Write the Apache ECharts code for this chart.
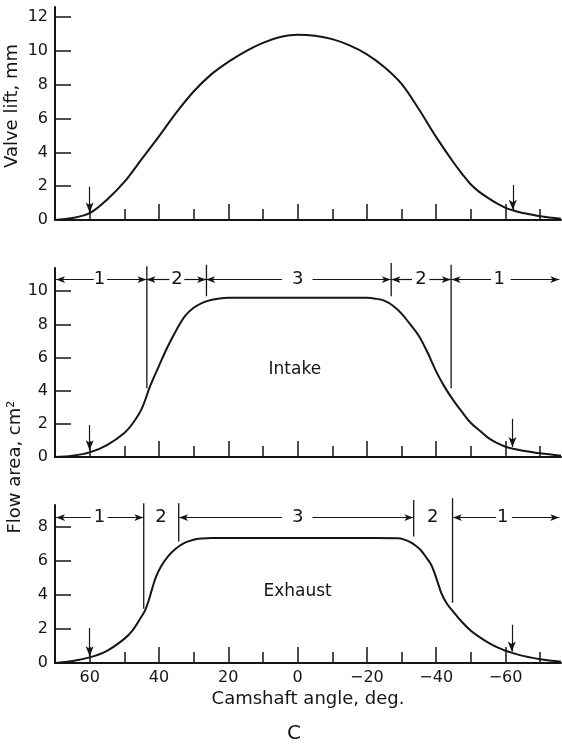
<!DOCTYPE html>
<html lang="en">
<head>
<meta charset="UTF-8">
<title>Valve lift and flow area</title>
<script src="https://cdn.jsdelivr.net/npm/echarts@6/dist/echarts.min.js"></script>
<style>
  html, body { margin: 0; padding: 0; background: #fff; }
  #main { width: 562px; height: 745px; }
</style>
</head>
<body>
<div id="main"></div>
<script>
// camshaft angle ticks (deg.)
var angleMajor = [60, 40, 20, 0, -20, -40, -60];
var angleMinor = [50, 30, 10, -10, -30, -50, -70];

// valve lift, mm  [angle, lift]
var liftCurve = [
  [70, 0], [65, 0.12], [60, 0.4], [55, 1.2], [50, 2.25], [45, 3.6], [40, 4.95],
  [35, 6.35], [30, 7.6], [25, 8.6], [20, 9.35], [15, 9.98], [10, 10.48], [5, 10.82],
  [0, 10.96], [-5, 10.9], [-10, 10.7], [-15, 10.33], [-20, 9.8], [-25, 9.05],
  [-30, 8.05], [-35, 6.55], [-40, 4.9], [-45, 3.4], [-47.5, 2.72], [-50, 2.1],
  [-52.5, 1.65], [-55, 1.3], [-57.5, 0.98], [-60, 0.72], [-62.5, 0.55], [-65, 0.42],
  [-70, 0.22], [-76, 0.08]
];
var liftTicks = [0, 2, 4, 6, 8, 10, 12];
// opening / closing arrows: [angle, from, to]
var liftArrows = [[60, 1.97, 0.45], [-62.1, 2.07, 0.6]];

// intake flow area, cm2
var intakeCurve = [
  [70, 0], [65, 0.08], [60, 0.28], [55, 0.72], [50, 1.45], [47.5, 2.05], [45, 2.9],
  [42.5, 4.3], [40, 5.5], [37.5, 6.65], [35, 7.65], [32.5, 8.5], [30, 9.0], [27.5, 9.3],
  [25, 9.47], [22.5, 9.56], [20, 9.6], [10, 9.6], [0, 9.6], [-10, 9.6], [-20, 9.6],
  [-22.5, 9.55], [-25, 9.43], [-27.5, 9.12], [-30, 8.65], [-32.5, 8.0], [-35, 7.3],
  [-37.5, 6.3], [-40, 5.15], [-42.5, 4.2], [-45, 3.4], [-47.5, 2.7], [-50, 2.05],
  [-52.5, 1.6], [-55, 1.15], [-57.5, 0.85], [-60, 0.62], [-62.5, 0.48], [-65, 0.38],
  [-70, 0.22], [-76, 0.08]
];
var intakeTicks = [0, 2, 4, 6, 8, 10];
var intakeArrows = [[60, 1.92, 0.4], [-62, 2.3, 0.6]];
// region boundaries: [angle, bottom, top]
var intakeBounds = [[43.5, 4.15, 11.5], [26.3, 9.7, 11.6], [-27, 9.7, 11.7], [-44.3, 4.15, 11.6]];
var intakeRow = 10.7;
var intakeLabels = [['1', 57.2], ['2', 34.8], ['3', 0], ['2', -35.6], ['1', -58.2]];
var intakeSpans = [[58.8, 69.7], [55, 43.6], [37, 43.6], [32.7, 26.4], [4.5, 26.4],
  [-4.3, -26.9], [-33, -27.1], [-38, -44.2], [-55.8, -44.4], [-61.5, -75.5]];
var intakeName = ['Intake', 0.8, 5.25];

// exhaust flow area, cm2
var exhaustCurve = [
  [70, 0], [65, 0.12], [60, 0.33], [55, 0.72], [50, 1.42], [47.5, 1.95], [45, 2.75],
  [44, 3.1], [43, 3.65], [42, 4.35], [41, 5.0], [39.5, 5.65], [37.5, 6.25], [35, 6.75],
  [32.5, 7.08], [30, 7.26], [27.5, 7.33], [25, 7.36], [10, 7.36], [0, 7.36], [-15, 7.36],
  [-29, 7.35], [-31, 7.25], [-32.5, 7.12], [-34, 6.92], [-35.5, 6.65], [-37, 6.25],
  [-38.5, 5.8], [-39.5, 5.3], [-40.5, 4.7], [-41.5, 4.1], [-43, 3.52], [-45, 3.0],
  [-47.5, 2.4], [-50, 1.9], [-52.5, 1.52], [-55, 1.2], [-57.5, 0.93], [-60, 0.72],
  [-62.5, 0.56], [-65, 0.42], [-70, 0.22], [-76, 0.08]
];
var exhaustTicks = [0, 2, 4, 6, 8];
var exhaustArrows = [[60, 2.06, 0.4], [-61.8, 2.25, 0.68]];
var exhaustBounds = [[44.4, 3.2, 9.4], [34.3, 7.15, 9.4], [-33.5, 7.45, 9.6], [-44.7, 3.55, 9.7]];
var exhaustRow = 8.56;
var exhaustLabels = [['1', 57.2], ['2', 39.4], ['3', 0], ['2', -39], ['1', -59.2]];
var exhaustSpans = [[59.7, 69.7], [54.8, 44.5], [4.5, 34.2], [-4.3, -33.4],
  [-57.3, -44.8], [-61.8, -75.5]];
var exhaustName = ['Exhaust', 0, 4.2];

var font = 'DejaVu Sans';
var ink = '#151515';

var chart = echarts.init(document.getElementById('main'));

function minus(v) { return v < 0 ? '\u2212' + (-v) : String(v); }

function xMajor(i, labels) {
  return {
    type: 'value', gridIndex: i, position: 'bottom', min: -76, max: 70, inverse: true,
    axisLine: { show: true, onZero: false, lineStyle: { color: ink, width: 2 } },
    axisTick: { show: true, inside: true, length: 16, customValues: angleMajor, lineStyle: { color: ink, width: 1.5 } },
    axisLabel: { show: labels, customValues: angleMajor, margin: 7, color: ink, fontSize: 16, fontFamily: font, formatter: minus },
    splitLine: { show: false }
  };
}
function xMinor(i) {
  return {
    type: 'value', gridIndex: i, position: 'bottom', min: -76, max: 70, inverse: true,
    axisLine: { show: false, onZero: false },
    axisTick: { show: true, inside: true, length: 11, customValues: angleMinor, lineStyle: { color: ink, width: 1.5 } },
    axisLabel: { show: false },
    splitLine: { show: false }
  };
}
function yAx(i, max, ticks) {
  return {
    type: 'value', gridIndex: i, min: 0, max: max,
    axisLine: { show: true, onZero: false, lineStyle: { color: ink, width: 2 } },
    axisTick: { show: true, inside: true, length: 16, customValues: ticks, lineStyle: { color: ink, width: 1.5 } },
    axisLabel: { customValues: ticks, margin: 7, color: ink, fontSize: 16, fontFamily: font },
    splitLine: { show: false }
  };
}

function marks(arrows, row, spans) {
  var d = [];
  arrows.forEach(function (a) {
    d.push([{ coord: [a[0], a[1]], symbol: 'none' }, { coord: [a[0], a[2]], symbol: 'arrow', symbolSize: [6, 10] }]);
  });
  (spans || []).forEach(function (s) {
    d.push([{ coord: [s[0], row], symbol: 'none' }, { coord: [s[1], row], symbol: 'arrow', symbolSize: [5, 9] }]);
  });
  return d;
}

function curve(i, data, arrows, row, spans) {
  return {
    type: 'line', xAxisIndex: 2 * i, yAxisIndex: i, data: data,
    showSymbol: false, symbol: 'none', smooth: 0.35, silent: true,
    lineStyle: { color: ink, width: 2 },
    markLine: {
      silent: true, animation: false, symbol: ['none', 'none'],
      label: { show: false },
      lineStyle: { color: ink, width: 1.2, type: 'solid' },
      emphasis: { disabled: true },
      data: marks(arrows, row, spans)
    }
  };
}

// vertical boundary lines, which run a little above the axis top
function bounds(i, data) {
  return {
    type: 'custom', xAxisIndex: 2 * i, yAxisIndex: i, silent: true, clip: false,
    data: data,
    encode: { x: 0, y: [1, 2] },
    renderItem: function (params, api) {
      var p1 = api.coord([api.value(0), api.value(1)]);
      var p2 = api.coord([api.value(0), api.value(2)]);
      return {
        type: 'line',
        shape: { x1: p1[0], y1: p1[1], x2: p2[0], y2: p2[1] },
        style: { stroke: ink, lineWidth: 1.3 }
      };
    }
  };
}

function texts(i, labels, row, name) {
  var d = labels.map(function (l) { return { value: [l[1], row], name: l[0] }; });
  d.push({ value: [name[1], name[2]], name: name[0], label: { fontSize: 17 } });
  return {
    type: 'scatter', xAxisIndex: 2 * i, yAxisIndex: i, symbolSize: 0, silent: true,
    itemStyle: { opacity: 1 },
    data: d,
    label: { show: true, position: 'inside', formatter: '{b}', color: ink, opacity: 1, fontSize: 18, fontFamily: font }
  };
}

var option = {
  animation: false,
  backgroundColor: '#fff',
  grid: [
    { left: 55, right: 1, top: 7, bottom: 525 },
    { left: 55, right: 1, top: 268, bottom: 288 },
    { left: 55, right: 1, top: 505, bottom: 82 }
  ],
  xAxis: [
    xMajor(0, false), xMinor(0),
    xMajor(1, false), xMinor(1),
    Object.assign(xMajor(2, true), {
      name: 'Camshaft angle, deg.', nameLocation: 'middle', nameGap: 27,
      nameTextStyle: { color: ink, fontSize: 18, fontFamily: font }
    }), xMinor(2)
  ],
  yAxis: [yAx(0, 12.6, liftTicks), yAx(1, 11.4, intakeTicks), yAx(2, 9.3, exhaustTicks)],
  series: [
    curve(0, liftCurve, liftArrows),
    curve(1, intakeCurve, intakeArrows, intakeRow, intakeSpans),
    curve(2, exhaustCurve, exhaustArrows, exhaustRow, exhaustSpans),
    bounds(1, intakeBounds),
    bounds(2, exhaustBounds),
    texts(1, intakeLabels, intakeRow, intakeName),
    texts(2, exhaustLabels, exhaustRow, exhaustName)
  ],
  graphic: [
    { type: 'text', x: 12, y: 106, rotation: Math.PI / 2,
      style: { text: 'Valve lift, mm', fill: ink, font: '18px "DejaVu Sans"', textAlign: 'center', textVerticalAlign: 'middle' } },
    { type: 'text', x: 15, y: 467, rotation: Math.PI / 2,
      style: { text: 'Flow area, cm\u00b2', fill: ink, font: '18px "DejaVu Sans"', textAlign: 'center', textVerticalAlign: 'middle' } },
    { type: 'text', x: 294, y: 734,
      style: { text: 'C', fill: ink, font: '20px "DejaVu Sans"', textAlign: 'center', textVerticalAlign: 'middle' } }
  ]
};
chart.setOption(option);
</script>
</body>
</html>
